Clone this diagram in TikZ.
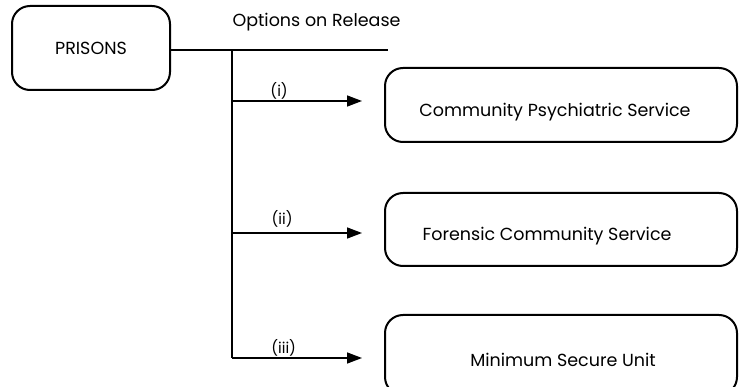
\documentclass[tikz,border=0pt]{standalone}
\usepackage{fontspec}
\setmainfont{Poppins}
\usepackage{tikz}
\usetikzlibrary{arrows.meta}
\usetikzlibrary{positioning}
\tikzstyle{arrow}= [line width=1.5pt, -{Triangle[length=15pt,width=11pt]}, shorten >=22pt]
\tikzstyle{branch}= [line width=1.5pt]

\begin{document}
\begin{tikzpicture}[
		x=1pt, y=-1pt,
		font=\fontsize{17.5}{20}\selectfont,
    optbox/.style={
    draw,line width=2pt,rounded corners=18pt,minimum width=352pt,
    },
    lbl/.style={font=\fontsize{15}{17}\selectfont,inner sep=1pt}
	]
  \useasboundingbox (0,0) rectangle (739,387);

  \node[draw,line width=2pt,rounded corners=18pt,minimum width=158pt,minimum height=84pt] (prisons) at (91,48) {PRISONS};
  \node[optbox,minimum height=74pt,label={[shift={(-6,7)}]center:Community Psychiatric Service}] (cps) at (561,105) {};
  \node[optbox,minimum height=73pt,label={[shift={(-14,7)}]center:Forensic Community Service}] (fcs) at (561,229.5) {};
  \node[optbox,minimum height=80pt,label={[shift={(2,5)}]center:Minimum Secure Unit}] (msu) at (561,355) {};

  \coordinate (top) at (232,50);
  \coordinate (rel) at (388,50);
  \coordinate (j1) at (232,101);
  \coordinate (j2) at (232,233);
  \coordinate (j3) at (232,358);

  \draw[branch] (prisons.east |- top) -- (rel);
  \draw[branch] (top) -- (j3);
  \node[anchor=west] (opt) at (229,22) {Options on Release};

  \draw[arrow] (j1) -- (j1 -| cps.west) node[pos=0.31,above,lbl] {(i)};
  \draw[arrow] (j2) -- (j2 -| fcs.west) node[pos=0.33,above=4pt,lbl] {(ii)};
  \draw[arrow] (j3) -- (j3 -| msu.west) node[pos=0.34,above,lbl] {(iii)};
\end{tikzpicture}
\end{document}
